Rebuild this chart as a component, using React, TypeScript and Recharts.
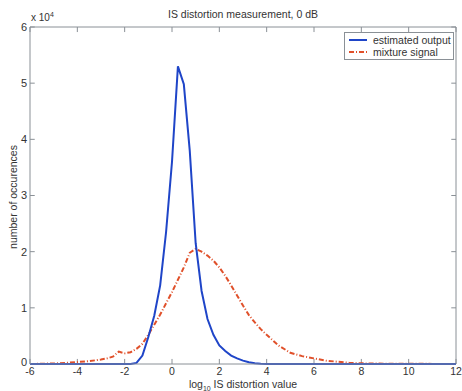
import React from 'react'
import { LineChart, Line, XAxis, YAxis, ReferenceLine } from "recharts";

// x positions (log10 IS distortion value)
const xValues = [
  -6, -5.5, -5, -4.5, -4, -3.5, -3, -2.75, -2.5, -2.25, -2, -1.75, -1.5, -1.25, -1, -0.75,
  -0.5, -0.25, 0, 0.25, 0.5, 0.75, 1, 1.25, 1.5, 1.75, 2, 2.25, 2.5, 2.75, 3, 3.25, 3.5,
  3.75, 4, 4.5, 5, 5.5, 6, 6.5, 7, 7.5, 8, 9, 10, 11, 12,
];

// counts in units of 10^4
const estimatedOutput = [
  0, 0, 0, 0, 0, 0, 0, 0, 0, 0, 0, 0, 0.02, 0.15, 0.48, 0.86,
  1.4, 2.35, 3.6, 5.3, 4.98, 3.8, 2.15, 1.3, 0.8, 0.52, 0.33, 0.23, 0.15, 0.1, 0.06, 0.03, 0.015,
  0.005, 0, 0, 0, 0, 0, 0, 0, 0, 0, 0, 0, 0, 0,
];

const mixtureSignal = [
  0, 0.005, 0.01, 0.02, 0.035, 0.05, 0.08, 0.1, 0.13, 0.22, 0.19, 0.21, 0.27, 0.36, 0.52, 0.7,
  0.88, 1.08, 1.28, 1.5, 1.72, 1.98, 2.05, 2.0, 1.93, 1.84, 1.72, 1.57, 1.4, 1.22, 1.04, 0.87, 0.74,
  0.62, 0.52, 0.33, 0.2, 0.14, 0.1, 0.06, 0.04, 0.02, 0.012, 0.006, 0.004, 0.002, 0,
];

const xTicks = [-6, -4, -2, 0, 2, 4, 6, 8, 10, 12];
const yTicks = [0, 1, 2, 3, 4, 5, 6];

const data = xValues.map((x, i) => ({ x, est: estimatedOutput[i], mix: mixtureSignal[i] }));

const BLUE = "#1f45c8";
const RED = "#e0502a";
const AXIS = "#8a9096";
const TEXT = "#333";
const FONT = "Liberation Sans, Arial, sans-serif";

// legend drawn as an overlay so it doesn't take space from the plot area
const LegendBox = () => (
  <div style={{
    position: "absolute", left: 344, top: 32, width: 108, height: 24,
    border: `1px solid ${AXIS}`, background: "#fff", whiteSpace: "nowrap",
    fontSize: 10.5, color: TEXT, lineHeight: "12px", padding: "1px 0",
  }}>
    <div style={{ display: "flex", alignItems: "center" }}>
      <svg width={28} height={12}><line x1={4} y1={6} x2={22} y2={6} stroke={BLUE} strokeWidth={2} /></svg>
      <span>estimated output</span>
    </div>
    <div style={{ display: "flex", alignItems: "center" }}>
      <svg width={28} height={12}><line x1={4} y1={6} x2={22} y2={6} stroke={RED} strokeWidth={2} strokeDasharray="5 2 1 2" /></svg>
      <span>mixture signal</span>
    </div>
  </div>
);

// y tick label; the 0 sits a little higher so it clears the -6 below it
const YTick = ({ x, y, payload }: any) => (
  <text
    x={x} y={y} dy={payload.value === 0 ? "0.15em" : "0.355em"} textAnchor="end"
    fill={TEXT} fontSize={11} fontFamily={FONT}
  >
    {payload.value}
  </text>
);

const tickProps = { stroke: AXIS, strokeWidth: 1, xAxisId: "bottom", yAxisId: "left", ifOverflow: "visible" as const };

const App = () => {
  return (
    <div style={{ position: "absolute", left: 0, top: 0, width: 462, height: 391, background: "#fff", fontFamily: FONT }}>
      <LineChart width={462} height={391} data={data} margin={{ top: 27, right: 6, bottom: 7, left: 0 }}>
        <XAxis
          xAxisId="bottom" dataKey="x" type="number" domain={[-6, 12]} ticks={xTicks}
          height={20} tickLine={false} tickSize={0} tickMargin={4} stroke={AXIS}
          tick={{ fill: TEXT, fontSize: 10.5, fontFamily: FONT }} interval={0}
        />
        <YAxis
          yAxisId="left" type="number" domain={[0, 6]} ticks={yTicks} width={30}
          tickLine={false} tickSize={0} tickMargin={3} stroke={AXIS}
          tick={<YTick />} interval={0}
        />
        {/* box: top and right edges */}
        <ReferenceLine {...tickProps} y={6} />
        <ReferenceLine {...tickProps} x={12} />
        {/* inward tick marks on all four sides */}
        {xTicks.map((t) => (
          <ReferenceLine key={`b${t}`} {...tickProps} segment={[{ x: t, y: 0 }, { x: t, y: 0.09 }]} />
        ))}
        {xTicks.map((t) => (
          <ReferenceLine key={`t${t}`} {...tickProps} segment={[{ x: t, y: 6 }, { x: t, y: 5.91 }]} />
        ))}
        {yTicks.map((t) => (
          <ReferenceLine key={`l${t}`} {...tickProps} segment={[{ x: -6, y: t }, { x: -5.8, y: t }]} />
        ))}
        {yTicks.map((t) => (
          <ReferenceLine key={`r${t}`} {...tickProps} segment={[{ x: 12, y: t }, { x: 11.8, y: t }]} />
        ))}
        <Line
          xAxisId="bottom" yAxisId="left" type="linear" dataKey="mix" stroke={RED} strokeWidth={2}
          strokeDasharray="5 2 1 2" dot={false} isAnimationActive={false} name="mixture signal"
        />
        <Line
          xAxisId="bottom" yAxisId="left" type="linear" dataKey="est" stroke={BLUE} strokeWidth={2}
          dot={false} isAnimationActive={false} name="estimated output"
        />
      </LineChart>

      <LegendBox />
      <div style={{ position: "absolute", left: 30, width: 426, top: 8, textAlign: "center", fontSize: 10.5, color: TEXT }}>
        IS distortion measurement, 0 dB
      </div>
      <div style={{ position: "absolute", left: 31, top: 11, fontSize: 10, color: TEXT }}>
        x 10<sup style={{ fontSize: 7 }}>4</sup>
      </div>
      <div style={{
        position: "absolute", left: 30, width: 426, top: 379, textAlign: "center",
        fontSize: 10.5, lineHeight: "11px", color: TEXT,
      }}>
        log<sub style={{ fontSize: 7, lineHeight: 0 }}>10</sub> IS distortion value
      </div>
      <div style={{
        position: "absolute", left: 13, top: 197, fontSize: 10.5, color: TEXT, whiteSpace: "nowrap",
        transform: "translate(-50%, -50%) rotate(-90deg)",
      }}>
        number of occurences
      </div>
    </div>
  );
};

export default App;
